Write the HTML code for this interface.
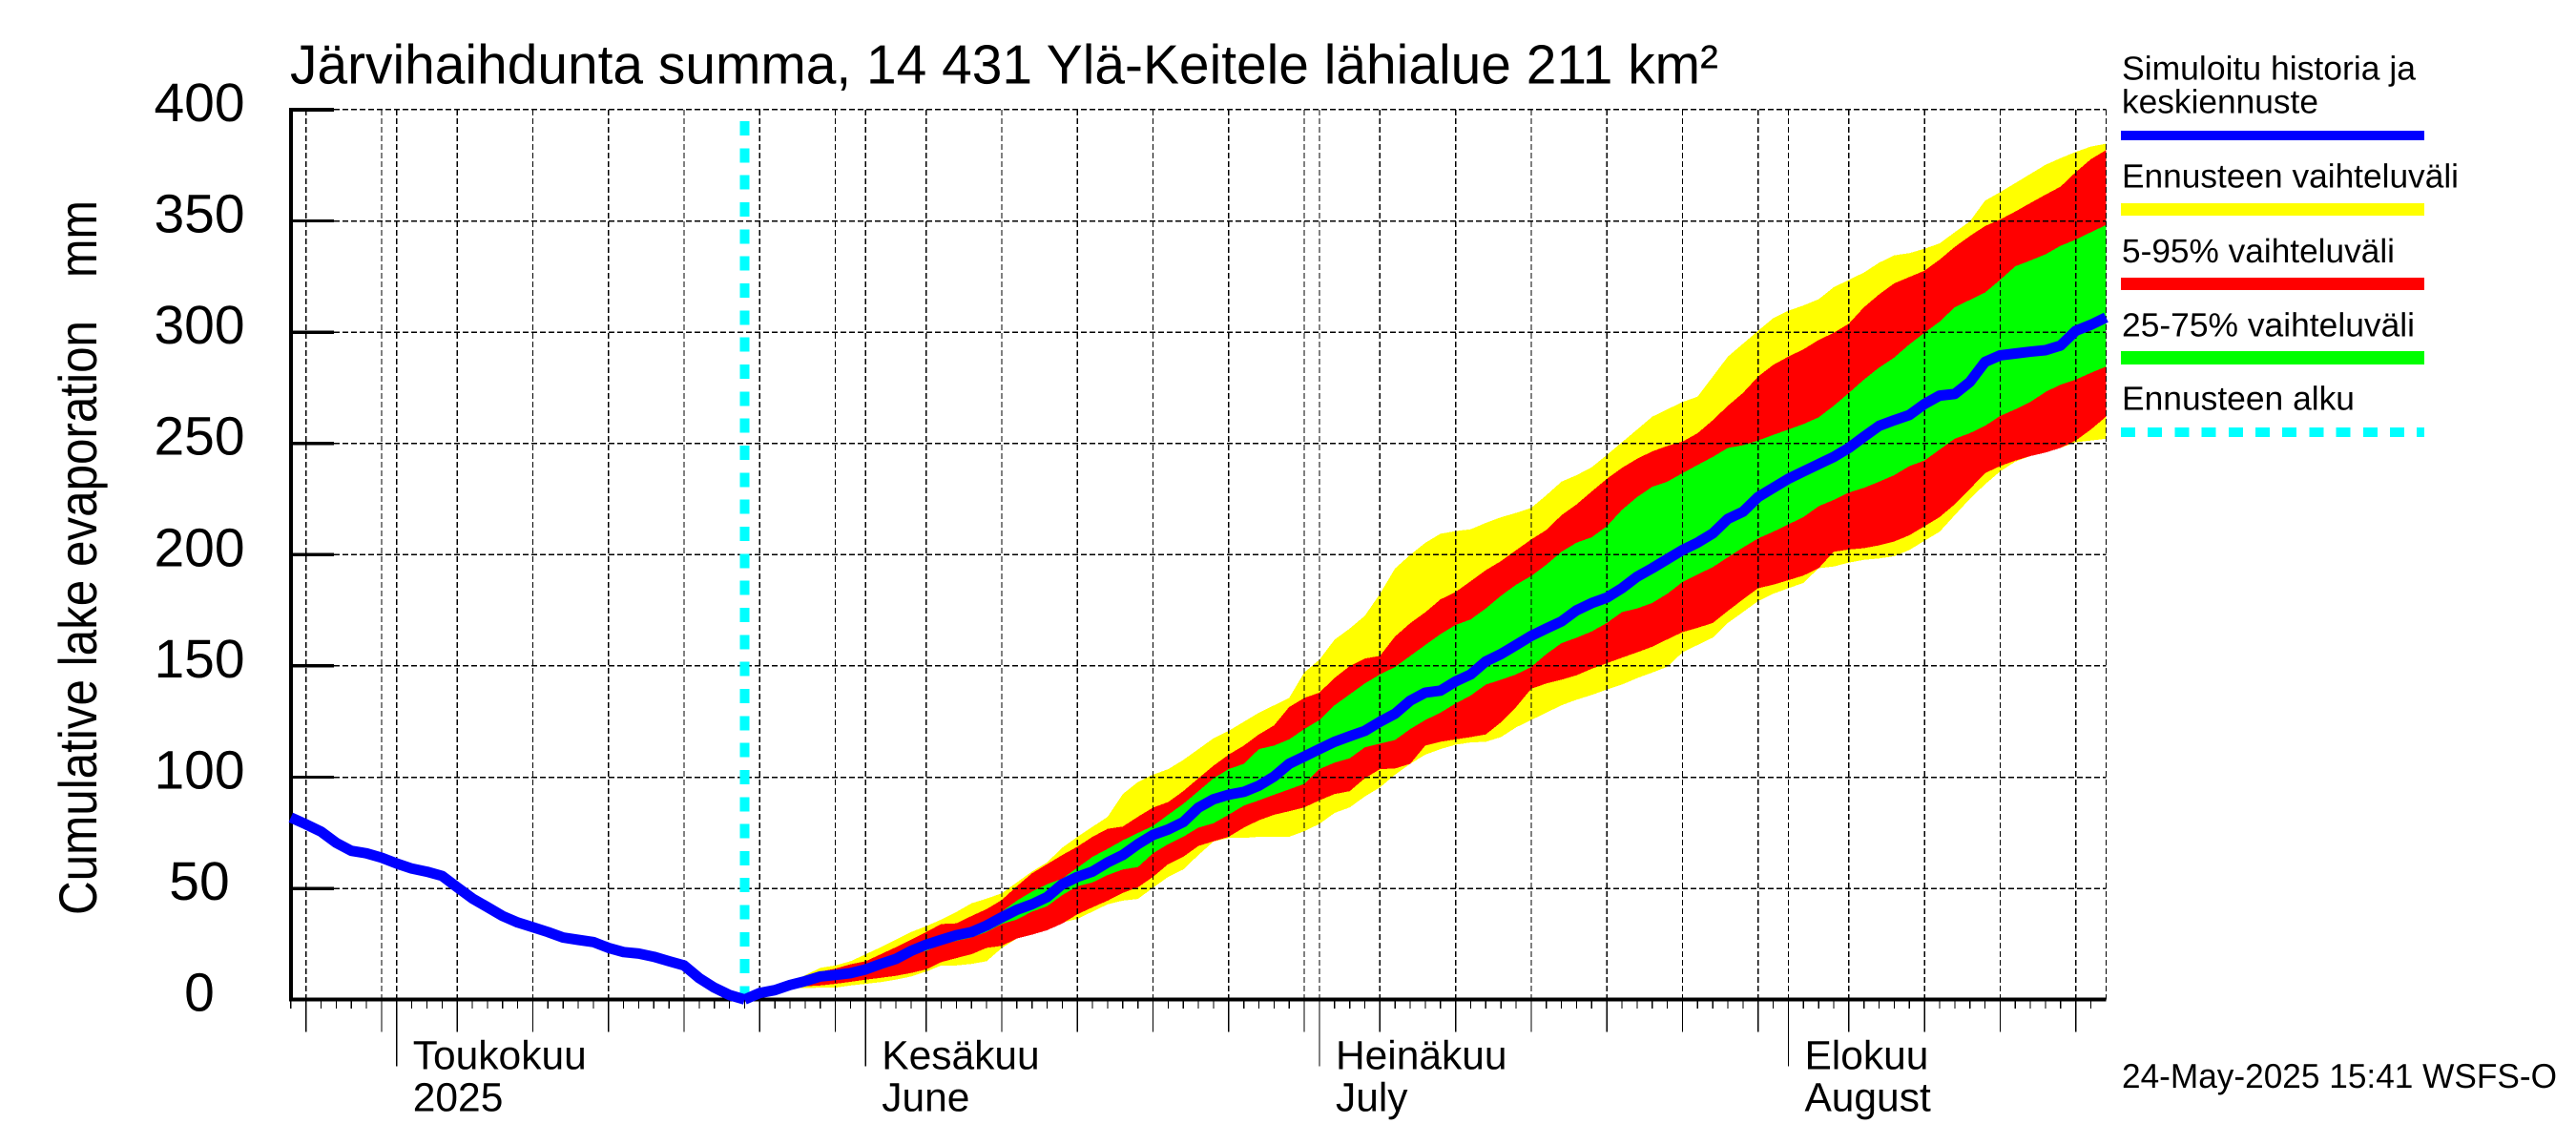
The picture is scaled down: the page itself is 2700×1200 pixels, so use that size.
<!DOCTYPE html>
<html lang="fi">
<head>
<meta charset="utf-8">
<title>Järvihaihdunta summa</title>
<style>
html,body{margin:0;padding:0;background:#fff;}
svg{display:block;}
text{font-family:"Liberation Sans",sans-serif;fill:#000;text-rendering:geometricPrecision;}
</style>
</head>
<body>
<svg id="chart" xmlns="http://www.w3.org/2000/svg" width="2700" height="1200" viewBox="0 0 2700 1200">
  <rect x="0" y="0" width="2700" height="1200" fill="#ffffff"/>
  <g id="bands"></g>
  <g id="grid"></g>
  <g id="start"></g>
  <g id="axes"></g>
  <g id="lines"></g>

  <text x="304" y="87.3" font-size="58" textLength="1497" lengthAdjust="spacingAndGlyphs">Järvihaihdunta summa, 14 431 Ylä-Keitele lähialue 211 km²</text>
  <text transform="translate(101,959) rotate(-90)" x="0" y="0" font-size="56" textLength="623" lengthAdjust="spacingAndGlyphs">Cumulative lake evaporation</text>
  <text transform="translate(101,291) rotate(-90)" x="0" y="0" font-size="56" textLength="81" lengthAdjust="spacingAndGlyphs">mm</text>

  <g>
    <text x="2224" y="83.3" font-size="35" textLength="308" lengthAdjust="spacingAndGlyphs">Simuloitu historia ja</text>
    <text x="2224" y="118.3" font-size="35" textLength="206" lengthAdjust="spacingAndGlyphs">keskiennuste</text>
    <rect x="2223" y="137" width="318" height="10" fill="#0000ff"/>
    <text x="2224" y="196.7" font-size="35" textLength="353" lengthAdjust="spacingAndGlyphs">Ennusteen vaihteluväli</text>
    <rect x="2223" y="213" width="318" height="13" fill="#ffff00"/>
    <text x="2224" y="275" font-size="35" textLength="286" lengthAdjust="spacingAndGlyphs">5-95% vaihteluväli</text>
    <rect x="2223" y="291" width="318" height="13" fill="#ff0000"/>
    <text x="2224" y="352.7" font-size="35" textLength="307" lengthAdjust="spacingAndGlyphs">25-75% vaihteluväli</text>
    <rect x="2223" y="368" width="318" height="14" fill="#00ff00"/>
    <text x="2224" y="429.3" font-size="35" textLength="244" lengthAdjust="spacingAndGlyphs">Ennusteen alku</text>
    <line x1="2223" y1="453" x2="2541" y2="453" stroke="#00ffff" stroke-width="10" stroke-dasharray="15 13.2" shape-rendering="crispEdges"/>
  </g>

  <text x="2224" y="1140" font-size="36" textLength="456" lengthAdjust="spacingAndGlyphs">24-May-2025 15:41 WSFS-O</text>
</svg>

<script>
// Days are counted from 24 April 2025 (day 0).
const historyStartDay = 0;
const forecastStartDay = 30;
const lastDay = 120;

const yTickValues = [0, 50, 100, 150, 200, 250, 300, 350, 400];
const yTickLabels = ["0", "50", "100", "150", "200", "250", "300", "350", "400"];

// 5th/10th/... of each month
const gridDays = [1, 6, 11, 16, 21, 26, 31, 36, 42, 47, 52, 57, 62, 67, 72, 77, 82, 87, 92, 97, 103, 108, 113, 118, 120];
const monthDays = [7, 38, 68, 99];
const monthLabelsTop = ["Toukokuu", "Kesäkuu", "Heinäkuu", "Elokuu"];
const monthLabelsBottom = ["2025", "June", "July", "August"];

const history = [81.9, 78.8, 75.5, 70.5, 66.9, 65.8, 63.8, 61.2, 58.9, 57.5,
  55.6, 50.5, 45.5, 41.6, 37.6, 34.7, 32.6, 30.4, 27.9, 26.9,
  25.9, 23.3, 21.4, 20.7, 19.3, 17.3, 15.4, 9.7, 5.4, 2.1, 0.1];

const forecastMedian = [0.1, 3, 4.3, 6.6, 8.3, 10.4, 11.1, 11.9, 13.6, 16.1,
  18.3, 21.9, 24.7, 26.9, 29, 30.4, 33.3, 37, 40.4, 42.9,
  46.1, 51.9, 55.2, 57.6, 61.7, 65, 69.9, 74, 76.5, 79.8,
  86.3, 90.1, 92.1, 93.4, 96.2, 100.3, 106, 109.3, 112.6, 115.9,
  118.4, 120.8, 124.9, 128.5, 134.4, 138, 138.9, 143, 146.2, 152,
  155.3, 159.4, 163.5, 166.8, 170, 175, 178.2, 180.7, 184.9, 190.1,
  193.9, 198, 202.1, 205.4, 209.5, 216.1, 219.3, 225.9, 230, 234.1,
  237.4, 240.7, 243.9, 248, 253, 257.9, 260.4, 262.8, 267.7, 271.5,
  272.2, 277.6, 286.6, 289.6, 290.4, 291.2, 291.9, 294, 300.6, 303.3, 306.6];

const forecastMax = [0.1, 3, 4.3, 7.6, 11, 14.3, 15.4, 17.3, 20.4, 23.6,
  27, 30.4, 33, 36, 39.4, 43.3, 45.4, 47.8, 52.7, 57.6,
  61.7, 68.3, 73.2, 77.7, 82.2, 92.4, 97.8, 101.1, 103.6, 107.7,
  112.6, 117.5, 120.8, 124.9, 129, 132.3, 135.6, 147.1, 152.8, 161.8,
  166.8, 172.5, 182.4, 193.8, 199.9, 205.3, 209.4, 210.6, 211.4, 214.3,
  216.8, 218.8, 221, 226.7, 232.8, 235.7, 239.3, 244.8, 250.5, 256.2,
  262, 265.3, 268.6, 271, 280, 289, 294.8, 300.6, 306.3, 309.6,
  312, 314.8, 320.2, 323.5, 326.8, 331.2, 334.5, 335.5, 337.5, 339.9,
  344.9, 349.8, 359.1, 362.9, 367, 371.1, 375.2, 378.2, 381, 383.4, 384.7];

const forecastQ95 = [0.1, 3, 4.3, 7, 9, 12.6, 14, 15.9, 17.3, 20.4,
  23.6, 27, 30.4, 34, 34.3, 37.6, 40.7, 44.8, 51, 56.8,
  60.9, 65, 68.8, 73.2, 76.8, 77.8, 82.2, 86.3, 88.8, 93.7,
  99.5, 105.2, 110.1, 114.2, 119.2, 123.3, 131.5, 135.6, 138, 144.6,
  149.9, 153.3, 154.5, 163.2, 169.2, 174.1, 179.9, 183.2, 188.1, 193,
  197.1, 202, 206.8, 211.1, 217.7, 222.6, 228.4, 234.1, 239, 243.1,
  246.4, 248.9, 250.8, 254.6, 260.4, 266.9, 272.7, 280, 285.3, 289,
  292.3, 296.5, 299.7, 303.8, 311.2, 317, 321.9, 324.8, 327.6, 332.6,
  338.3, 343.2, 347.7, 350.6, 354.2, 358, 361.8, 365.4, 371.9, 377.7, 381.8];

const forecastQ75 = [0.1, 3, 4.3, 6.6, 8.3, 10.4, 11.1, 11.9, 13.8, 16.5,
  19, 22.5, 25.9, 28.3, 31.2, 32.6, 35, 39.6, 44.5, 48.6,
  51.9, 54.4, 59.3, 64.2, 67.8, 71.6, 74.9, 78.1, 83.1, 88,
  93.7, 99.5, 103.6, 106, 112.6, 114.2, 117, 121.6, 125.7, 132.3,
  137.2, 142.1, 146.2, 149.5, 154.5, 159.4, 164.3, 168.4, 170.9, 175.8,
  181.5, 186.5, 190.4, 195.5, 201.3, 205.4, 207.8, 212.8, 220.1, 225.9,
  230.5, 232.8, 236.6, 240.3, 243.9, 248, 249.2, 251.3, 253.8, 256.2,
  258.7, 261.7, 266.9, 272.7, 278.7, 284.1, 288.6, 294.5, 299.7, 304.7,
  311.2, 314.5, 317.8, 323.5, 329.6, 332.2, 335, 338.8, 341.6, 344.9, 348.1];

const forecastQ25 = [0.1, 3, 4.3, 6.6, 8.3, 10.4, 11.1, 11.9, 13.4, 15.7,
  18, 20.4, 21.9, 24.7, 26.4, 27.9, 30.4, 34, 36, 39.6,
  42, 47, 51, 52.7, 56, 58.5, 59.6, 65.8, 69.9, 73.2,
  77.3, 79.3, 83.1, 87.2, 89.6, 92.1, 94.5, 97, 103.6, 106.5,
  108.5, 113.4, 115.1, 116.7, 121.6, 125.7, 129, 133.1, 136.7, 141.6,
  143.8, 146.2, 149.5, 155.3, 160.2, 162.7, 165.5, 169.3, 174.2, 175.8,
  178.3, 182.4, 187.7, 191.1, 194.4, 198.8, 203.2, 207.3, 210.3, 213.6,
  216.9, 221.8, 224.6, 227.9, 230, 232.8, 235.7, 239.8, 242.3, 247.2,
  252.1, 254.6, 257.9, 262.3, 265.3, 268.6, 273.1, 276.4, 278.7, 281.7, 284.5];

const forecastQ5 = [0.1, 3, 4.3, 5.8, 6, 6.4, 7.1, 8, 9, 9.8,
  10.7, 12, 13.6, 16.9, 18.7, 20.4, 23.3, 24.2, 27.5, 29.2,
  31.2, 34.2, 38.4, 41.5, 44.5, 48, 50.5, 55.2, 60.9, 64.2,
  69.1, 71.2, 73.2, 77.3, 80.6, 83.1, 84.7, 86.4, 89.6, 92.4,
  93.7, 99.5, 103.6, 103.9, 106, 114.2, 115.9, 117, 118, 119.2,
  124.6, 131.5, 139.7, 142.1, 143.8, 145.8, 148.7, 151.2, 153.7, 156.1,
  158.6, 161.9, 165.2, 167.1, 169.3, 174.7, 179.9, 184.9, 186.5, 188.5,
  190.6, 193.9, 201.3, 202.3, 202.9, 204.2, 205.9, 208.7, 212.8, 216.9,
  222.6, 229.5, 236.6, 239.8, 242.3, 244.3, 245.9, 248, 251.3, 256.2, 262];

const forecastMin = [0.1, 3, 4.3, 5.5, 5.2, 5.4, 5.4, 6.4, 7.1, 7.9,
  9, 10.4, 12.6, 15.4, 15.4, 16.1, 17.3, 23.2, 27.5, 29.2,
  32, 34.7, 36.3, 39.6, 42.9, 44.5, 45.3, 50.3, 55.2, 58.5,
  65, 71.1, 72.7, 72.7, 73.2, 73.2, 73.2, 75.7, 79, 83.9,
  86.4, 91.3, 95.4, 101.1, 106, 110.1, 112.6, 114.6, 115.6, 115.9,
  118, 122.4, 125.7, 129, 132.3, 134.8, 136.9, 139.4, 141.6, 144.5,
  147, 149.6, 156.1, 159.4, 162.7, 169.3, 174.2, 179.1, 182.4, 184.9,
  187.3, 193.9, 194.7, 196.4, 197.7, 198.3, 199.3, 202.1, 206.2, 210.3,
  217.7, 225.1, 231.6, 237.4, 241.8, 244.3, 245.9, 248, 250.5, 251.3, 252.1];

const NS = "http://www.w3.org/2000/svg";

function xScale(day) { return 304.8 + 15.855 * day; }
function yScale(value) { return 1047.7 - 2.332 * value; }

function make(tag, parentId, props) {
  const el = document.createElementNS(NS, tag);
  for (const key in props) el.setAttribute(key, props[key]);
  document.getElementById(parentId).appendChild(el);
  return el;
}

function bandPoints(upper, lower, startDay) {
  const pts = [];
  upper.forEach(function (v, i) { pts.push(xScale(startDay + i).toFixed(1) + "," + yScale(v).toFixed(1)); });
  for (let i = lower.length - 1; i >= 0; i--) {
    pts.push(xScale(startDay + i).toFixed(1) + "," + yScale(lower[i]).toFixed(1));
  }
  return pts.join(" ");
}

function linePoints(values, startDay) {
  return values.map(function (v, i) {
    return xScale(startDay + i).toFixed(1) + "," + yScale(v).toFixed(1);
  }).join(" ");
}

// Bands
const bandYellow = make("polygon", "bands", { points: bandPoints(forecastMax, forecastMin, forecastStartDay), fill: "#ffff00", "shape-rendering": "crispEdges" });


const bandRed = make("polygon", "bands", { points: bandPoints(forecastQ95, forecastQ5, forecastStartDay), fill: "#ff0000", "shape-rendering": "crispEdges" });


const bandGreen = make("polygon", "bands", { points: bandPoints(forecastQ75, forecastQ25, forecastStartDay), fill: "#00ff00", "shape-rendering": "crispEdges" });



// Horizontal grid lines and y ticks
yTickValues.forEach(function (value, i) {
  const y = yScale(value);
  if (value > 0) {
    const g = make("line", "grid", { x1: 350, y1: y, x2: xScale(lastDay), y2: y, stroke: "#000", "stroke-width": 1.5, "stroke-dasharray": "6 3", "shape-rendering": "crispEdges" });
    
    
    const t = make("line", "axes", { x1: 304, y1: y, x2: 350, y2: y, stroke: "#000", "stroke-width": value === 400 ? 4 : 3.4, "shape-rendering": "crispEdges" });
    
    
  }
  const lab = make("text", "axes", { x: 209, y: y + 12, "font-size": 57, "text-anchor": "middle" });
  lab.textContent = yTickLabels[i];
  
  
});

// Vertical grid lines
gridDays.concat(monthDays).forEach(function (day) {
  const x = xScale(day);
  const g = make("line", "grid", { x1: x, y1: yScale(400), x2: x, y2: yScale(0), stroke: "#000", "stroke-width": 1.3, "stroke-dasharray": "6 3", "shape-rendering": "crispEdges" });
  
  
});

// Forecast start marker
const startLine = make("line", "start", { x1: xScale(forecastStartDay), y1: 127, x2: xScale(forecastStartDay), y2: yScale(0), stroke: "#00ffff", "stroke-width": 10, "stroke-dasharray": "15 13.33", "shape-rendering": "crispEdges" });



// Axis spines
const yAxisLine = make("line", "axes", { x1: 305, y1: 113, x2: 305, y2: 1049.7, stroke: "#000", "stroke-width": 4, "shape-rendering": "crispEdges" });


const xAxisLine = make("line", "axes", { x1: 303, y1: 1047.7, x2: xScale(lastDay), y2: 1047.7, stroke: "#000", "stroke-width": 4, "shape-rendering": "crispEdges" });



// Daily, five-day and month ticks
for (let day = historyStartDay; day < lastDay; day++) {
  const x = xScale(day);
  const minorTick = make("line", "axes", { x1: x, y1: 1049, x2: x, y2: 1057, stroke: "#000", "stroke-width": 1.2, "shape-rendering": "crispEdges" });
  
  
}
gridDays.forEach(function (day) {
  if (day === lastDay) return;
  const x = xScale(day);
  const midTick = make("line", "axes", { x1: x, y1: 1049, x2: x, y2: 1081.7, stroke: "#000", "stroke-width": 1.3, "shape-rendering": "crispEdges" });
  
  
});
monthDays.forEach(function (day, i) {
  const x = xScale(day);
  const monthTick = make("line", "axes", { x1: x, y1: 1049, x2: x, y2: 1117.5, stroke: "#000", "stroke-width": 1.3, "shape-rendering": "crispEdges" });
  
  
  const topLabel = make("text", "axes", { x: x + 17, y: 1120.7, "font-size": 42.5 });
  topLabel.textContent = monthLabelsTop[i];
  
  
  const bottomLabel = make("text", "axes", { x: x + 17, y: 1164.5, "font-size": 42.5 });
  bottomLabel.textContent = monthLabelsBottom[i];
  
  
});

// Median line: history and forecast
const lineStyle = { fill: "none", stroke: "#0000ff", "stroke-width": 11, "stroke-linejoin": "round" };
const historyLine = make("polyline", "lines", Object.assign({ points: linePoints(history, historyStartDay) }, lineStyle));


const medianLine = make("polyline", "lines", Object.assign({ points: linePoints(forecastMedian, forecastStartDay) }, lineStyle));


</script>
</body>
</html>
